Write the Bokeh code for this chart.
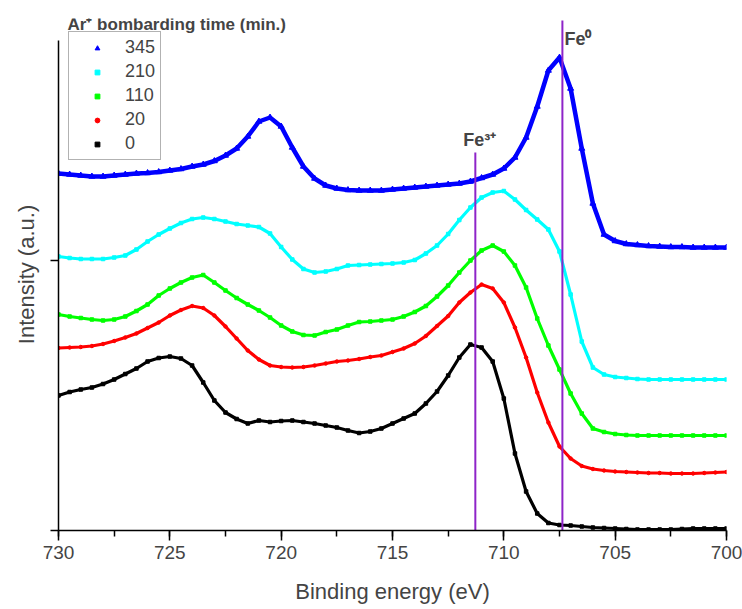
from bokeh.plotting import figure
from bokeh.models import (Range1d, Legend, LegendItem, Label, FixedTicker,
                          SingleIntervalTicker, ColumnDataSource)
from bokeh.embed import file_html
from bokeh.resources import INLINE

# Binding energy grid (eV)
energy = [730.0, 729.5, 729.0, 728.5, 728.0, 727.5, 727.0, 726.5, 726.0, 725.5,
          725.0, 724.5, 724.0, 723.5, 723.0, 722.5, 722.0, 721.5, 721.0, 720.5,
          720.0, 719.5, 719.0, 718.5, 718.0, 717.5, 717.0, 716.5, 716.0, 715.5,
          715.0, 714.5, 714.0, 713.5, 713.0, 712.5, 712.0, 711.5, 711.0, 710.5,
          710.0, 709.5, 709.0, 708.5, 708.0, 707.5, 707.0, 706.5, 706.0, 705.5,
          705.0, 704.5, 704.0, 703.5, 703.0, 702.5, 702.0, 701.5, 701.0, 700.5,
          700.0]

# Intensity (a.u., stacked) for each Ar+ bombarding time (min.)
t345 = [357, 356, 355, 354, 354, 355, 356, 357, 357.5, 358.5,
        360, 361.5, 364, 366, 369.5, 375, 382, 394, 409, 413,
        404, 383, 364, 352, 345, 342, 340.5, 340, 340, 340,
        341, 342, 343, 344, 345, 346, 347, 349, 352.5, 356,
        362, 373, 393, 424, 460, 473, 442, 382, 327, 296,
        289.5, 286.5, 285.5, 284.5, 284, 283.5, 283.5, 283, 283, 283,
        283]
t210 = [274, 272.5, 271.5, 271.5, 271.5, 273, 275, 281, 289, 296,
        302, 307.5, 311.5, 313, 311.5, 309, 306.5, 305, 303.5, 297,
        283.5, 271, 261.5, 258, 259, 261.5, 265, 265.5, 266, 266.5,
        267, 268, 270.5, 277, 285, 296.5, 310.5, 323, 333, 338,
        339.5, 331, 320.5, 311, 301, 279, 236, 189, 163, 156,
        153.5, 152.5, 151.5, 151, 151, 151, 151, 151, 151, 151,
        151]
t110 = [216, 214, 212.5, 211, 210, 211, 214, 219.5, 226, 235,
        242, 248, 253, 255.5, 248, 240, 232.5, 226, 220, 213,
        205, 199, 195.5, 195, 198.5, 201, 205, 208.5, 209, 210,
        211, 214, 218.5, 224.5, 234, 245, 258, 270, 280, 285,
        279, 265, 243, 212, 185, 161, 137, 117, 102, 98.5,
        96.5, 95.5, 95, 95, 95, 95, 95, 95, 95, 95,
        95]
t20 = [182.5, 183, 183.5, 184.5, 186.5, 189.5, 193, 197, 202.5, 208,
       215, 220.5, 224.5, 222.5, 215, 204, 192, 180, 171, 165,
       163.5, 163, 163.5, 165, 167, 169, 170, 171.5, 173.5, 175,
       178.5, 182, 187, 194.5, 204.5, 214.5, 228, 238, 246, 242,
       228, 203, 173, 138, 108, 84, 72, 64.5, 61.5, 60,
       59, 58.5, 58, 57.5, 57.5, 57, 57, 57, 57.5, 58,
       58.5]
t0 = [135, 138.5, 141, 143, 146.5, 151, 156.5, 162, 169, 172.5,
      174, 172, 165, 148, 130, 118, 111.5, 107, 110, 108.5,
      109.5, 110, 108.5, 107, 105, 103, 100, 97.5, 99, 102,
      107, 112, 117, 127, 139, 155, 173, 186, 183, 169,
      132, 77, 39, 17, 7.5, 5.5, 5, 4, 3, 2.5,
      2, 1.5, 1, 1, 1, 1, 1.5, 2, 2, 2,
      2]

legend_labels = ["345", "210", "110", "20", "0"]
series_values = [t345, t210, t110, t20, t0]
colors = ["#0000FF", "#00FFFF", "#00FF00", "#FF0000", "#000000"]
markers = ["triangle", "square", "square", "circle", "square"]

# Reference lines
ref_names = ["Fe\u00b3\u207a", "Fe\u2070"]
ref_energy = [711.28, 707.37]
ref_top = [378, 510]

FONT = "Liberation Sans"

p = figure(width=742, height=609, output_backend="svg", toolbar_location=None,
           x_range=Range1d(730, 700), y_range=Range1d(0, 512),
           min_border_left=58, min_border_right=16, min_border_top=18,
           min_border_bottom=79)
p.outline_line_color = None
p.grid.visible = False
p.background_fill_color = "white"
p.border_fill_color = "white"

# x axis
xa = p.xaxis[0]
xa.ticker = SingleIntervalTicker(interval=5, num_minor_ticks=2)
xa.axis_label = "Binding energy (eV)"
xa.axis_label_text_font = FONT
xa.axis_label_text_font_style = "normal"
xa.axis_label_text_font_size = "22px"
xa.axis_label_standoff = 17
xa.major_label_text_font = FONT
xa.major_label_text_font_size = "19px"
xa.major_label_standoff = 5
xa.major_tick_out = 10
xa.major_tick_in = 0
xa.minor_tick_out = 6
xa.minor_tick_in = 0
xa.axis_line_width = 1.5
xa.major_tick_line_width = 1.5
xa.minor_tick_line_width = 1.5

# y axis (no tick labels)
ya = p.yaxis[0]
ya.ticker = FixedTicker(ticks=[0, 270])
ya.major_label_overrides = {0: "", 270: ""}
ya.major_label_standoff = 0
ya.major_tick_out = 8
ya.major_tick_in = 0
ya.minor_tick_out = 0
ya.minor_tick_in = 0
ya.bounds = (0, 490)
ya.axis_line_width = 1.5
ya.major_tick_line_width = 1.5
ya.axis_label = "Intensity (a.u.)"
ya.axis_label_text_font = FONT
ya.axis_label_text_font_style = "normal"
ya.axis_label_text_font_size = "22px"
ya.axis_label_standoff = 12

renderers = {}
for lab, vals, col, mk in zip(legend_labels, series_values, colors, markers):
    src = ColumnDataSource(dict(x=energy, y=vals))
    tri = mk == "triangle"
    p.line("x", "y", source=src, line_color=col, line_width=4.5 if tri else 3.2)
    r = p.scatter("x", "y", source=src, marker=mk,
                  size=6 if tri else 3.5,
                  fill_color=col, line_color=col)
    renderers[lab] = r

ref_src = ColumnDataSource(dict(x=ref_energy, y0=[0, 0], y1=ref_top))
p.segment(x0="x", y0="y0", x1="x", y1="y1", source=ref_src,
          line_color="#8E24C8", line_width=2)

# Reference line labels
p.add_layout(Label(x=ref_energy[0], y=391, x_offset=-12, text=ref_names[0],
                   text_font=FONT, text_font_style="bold", text_font_size="18px",
                   text_baseline="alphabetic", text_align="left"))
p.add_layout(Label(x=ref_energy[1], y=492, x_offset=2, text=ref_names[1],
                   text_font=FONT, text_font_style="bold", text_font_size="18px",
                   text_baseline="alphabetic", text_align="left"))

# Legend title
p.add_layout(Label(x=730, y=506, x_offset=9, text="Ar\u207a bombarding time (min.)",
                   text_font=FONT, text_font_style="bold", text_font_size="17px",
                   text_baseline="alphabetic", text_align="left"))

legend = Legend(items=[LegendItem(label=l, renderers=[renderers[l]]) for l in legend_labels],
                location=(10, 370))
legend.border_line_color = "#666666"
legend.border_line_width = 1.5
legend.padding = 5
legend.spacing = 3
legend.margin = 0
legend.glyph_width = 46
legend.glyph_height = 12
legend.label_height = 21
legend.label_standoff = 5
legend.label_text_font = FONT
legend.label_text_font_size = "18px"
legend.background_fill_alpha = 1
p.add_layout(legend)

open("out.html", "w").write(file_html(p, INLINE))
